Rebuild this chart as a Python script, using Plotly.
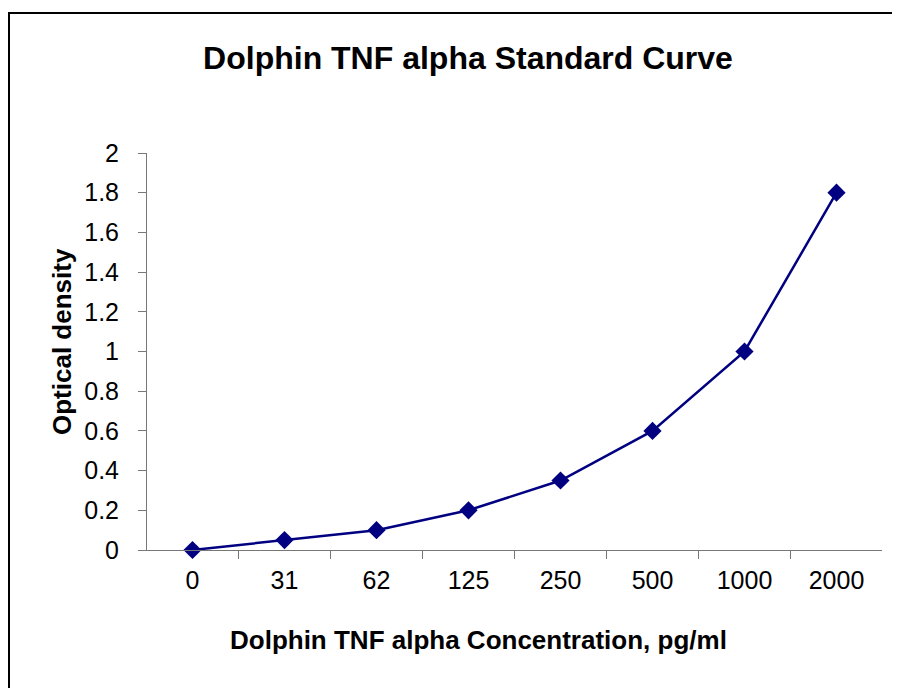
import plotly.graph_objects as go

categories = ["0", "31", "62", "125", "250", "500", "1000", "2000"]
optical_density = [0.0, 0.05, 0.1, 0.2, 0.35, 0.6, 1.0, 1.8]
y_ticks = [0, 0.2, 0.4, 0.6, 0.8, 1, 1.2, 1.4, 1.6, 1.8, 2]
y_tick_labels = ["0", "0.2", "0.4", "0.6", "0.8", "1", "1.2", "1.4", "1.6", "1.8", "2"]

# The page body has an 8px margin, so the figure is drawn 8px smaller
OFF = 8
W, H = 900 - OFF, 688 - OFF
L, R, T, B = 147 - OFF, 18, 153 - OFF, 138
pw, ph = W - L - R, H - T - B

def px_x(p):
    return (p - OFF - L) / pw

def px_y(p):
    return (H - B - (p - OFF)) / ph

FONT = "Liberation Sans, Arial, sans-serif"
AXIS_COLOR = "#777777"

fig = go.Figure()
fig.add_trace(go.Scatter(
    x=categories, y=optical_density, mode="lines+markers",
    line=dict(color="#000080", width=2.5),
    marker=dict(symbol="diamond", size=14, color="#000080"),
    showlegend=False, cliponaxis=False,
))

fig.update_layout(
    width=W, height=H,
    margin=dict(l=L, r=R, t=T, b=B, pad=0),
    paper_bgcolor="white", plot_bgcolor="white",
    font=dict(family=FONT, color="black", size=25),
    title=dict(text="<b>Dolphin TNF alpha Standard Curve</b>",
               font=dict(size=32, family=FONT, color="black"),
               x=px_x(468), xref="paper", xanchor="center",
               y=1 - (58 - OFF) / H, yref="container", yanchor="middle"),
    xaxis=dict(
        type="category", tickson="boundaries", ticks="outside", ticklen=8,
        tickcolor=AXIS_COLOR, showline=True, linecolor=AXIS_COLOR, linewidth=1,
        showgrid=False, zeroline=False, tickfont=dict(size=25),
        ticklabelstandoff=8,
    ),
    yaxis=dict(
        range=[0, 2], tickvals=y_ticks, ticktext=y_tick_labels,
        ticks="outside", ticklen=8, tickcolor=AXIS_COLOR,
        showline=True, linecolor=AXIS_COLOR, linewidth=1,
        showgrid=False, zeroline=False, tickfont=dict(size=25),
        ticklabelstandoff=14,
    ),
    annotations=[
        dict(text="<b>Dolphin TNF alpha Concentration, pg/ml</b>",
             xref="paper", yref="paper", x=px_x(478), y=px_y(640),
             xanchor="center", yanchor="middle", showarrow=False,
             font=dict(size=26)),
        dict(text="<b>Optical density</b>", textangle=-90,
             xref="paper", yref="paper", x=px_x(62), y=px_y(342),
             xanchor="center", yanchor="middle", showarrow=False,
             font=dict(size=26)),
    ],
    shapes=[dict(type="rect", xref="paper", yref="paper",
                 x0=px_x(9), x1=px_x(910), y0=px_y(700), y1=px_y(13),
                 line=dict(color="black", width=2), fillcolor="rgba(0,0,0,0)",
                 layer="above")],
)

fig.write_html("out.html")
